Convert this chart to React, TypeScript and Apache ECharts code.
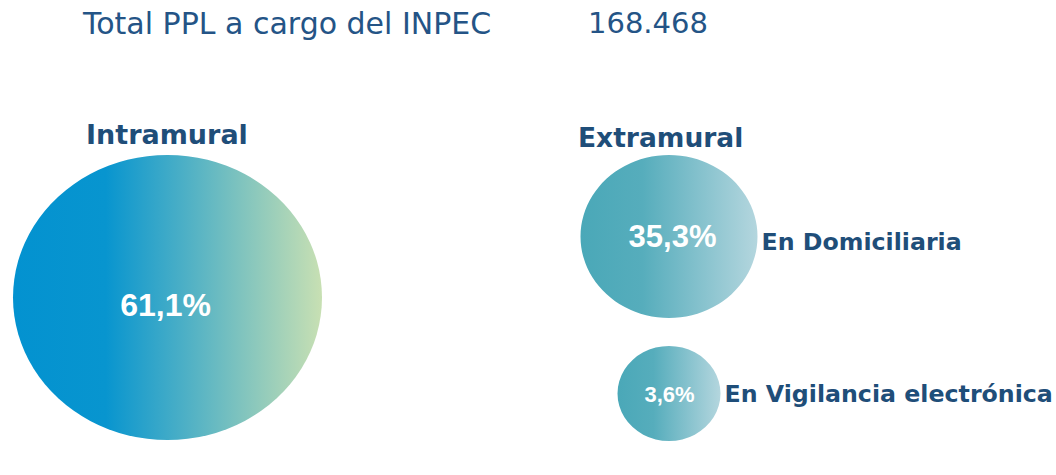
import React, { useEffect, useRef } from "react";
import * as echarts from "echarts";

// ---- data ----
const totalLabel = "Total PPL a cargo del INPEC";
const totalValue = "168.468";
const groupNames = ["Intramural", "Extramural"];
const categories = ["Intramural", "En Domiciliaria", "En Vigilancia electrónica"];
const shares = [61.1, 35.3, 3.6];

// ---- layout (pixel positions / sizes, separate from data) ----
const centersX = [167.5, 669, 669];
const centersY = [297.5, 236.5, 393.5];
const sizes: [number, number][] = [
  [309, 285],
  [177, 163],
  [103, 95],
];
const pctFont = [32, 31, 22];
const pctOffset: [number, number][] = [
  [-2, 7],
  [3.5, 0],
  [0.5, 0.5],
];
const showName = [false, true, true];
const nameOffset: [number, number][] = [
  [0, 0],
  [0, 5],
  [0, 0.5],
];

const DARK = "#1F4E79";

const fmtPct = (v: number) => v.toFixed(1).replace(".", ",") + "%";

const bigGrad = new echarts.graphic.LinearGradient(0, 0, 1, 0, [
  { offset: 0, color: "#0392D0" },
  { offset: 0.3, color: "#0895CF" },
  { offset: 0.55, color: "#4BAFC6" },
  { offset: 1, color: "#C8E0B3" },
]);
const smallGrad = () =>
  new echarts.graphic.LinearGradient(0, 0, 1, 0, [
    { offset: 0, color: "#4AA8B8" },
    { offset: 0.35, color: "#56ADBC" },
    { offset: 1, color: "#B4D6DE" },
  ]);

export default function App() {
  const ref = useRef<HTMLDivElement>(null);
  useEffect(() => {
    document.body.style.margin = "0";
    const chart = echarts.init(ref.current!, null, { renderer: "svg" });
    const data = categories.map((name, i) => ({
      name,
      value: [centersX[i], centersY[i], shares[i]],
      symbolSize: sizes[i],
      itemStyle: { color: i === 0 ? bigGrad : smallGrad(), opacity: 1 },
      label: {
        show: true,
        position: "inside",
        offset: pctOffset[i],
        formatter: () => fmtPct(shares[i]),
        color: "#FFFFFF",
        fontFamily: "Liberation Sans, Arial, sans-serif",
        fontWeight: "bold",
        fontSize: pctFont[i],
      },
    }));
    const nameData = categories.map((name, i) => ({
      name,
      value: [centersX[i], centersY[i], shares[i]],
      symbolSize: sizes[i],
      itemStyle: { color: "rgba(0,0,0,0)", opacity: 1 },
      label: {
        show: showName[i],
        position: "right",
        distance: 4,
        offset: nameOffset[i],
        formatter: () => name,
        color: DARK,
        fontFamily: "DejaVu Sans, Verdana, sans-serif",
        fontWeight: "bold",
        fontSize: 23.7,
      },
    }));
    chart.setOption({
      animation: false,
      grid: { left: 0, right: 0, top: 0, bottom: 0 },
      xAxis: { type: "value", min: 0, max: 1056, show: false },
      yAxis: { type: "value", min: 0, max: 475, inverse: true, show: false },
      series: [
        { type: "scatter", symbol: "circle", data, silent: true, z: 2 },
        { type: "scatter", symbol: "circle", data: nameData, silent: true, z: 3 },
      ],
      graphic: [
        {
          type: "text",
          left: 83,
          top: 8,
          style: {
            text: totalLabel,
            font: "30px 'DejaVu Sans', Verdana, sans-serif",
            fill: "#245486",
          },
        },
        {
          type: "text",
          left: 588,
          top: 8,
          style: {
            text: totalValue,
            font: "29px 'DejaVu Sans', Verdana, sans-serif",
            fill: "#245486",
          },
        },
        {
          type: "text",
          left: 86,
          top: 121,
          style: {
            text: groupNames[0],
            font: "bold 27px 'DejaVu Sans', Verdana, sans-serif",
            fill: DARK,
          },
        },
        {
          type: "text",
          left: 578,
          top: 124,
          style: {
            text: groupNames[1],
            font: "bold 26.5px 'DejaVu Sans', Verdana, sans-serif",
            fill: DARK,
          },
        },
      ],
    });
    return () => chart.dispose();
  }, []);
  return <div ref={ref} style={{ width: 1056, height: 475 }} />;
}
